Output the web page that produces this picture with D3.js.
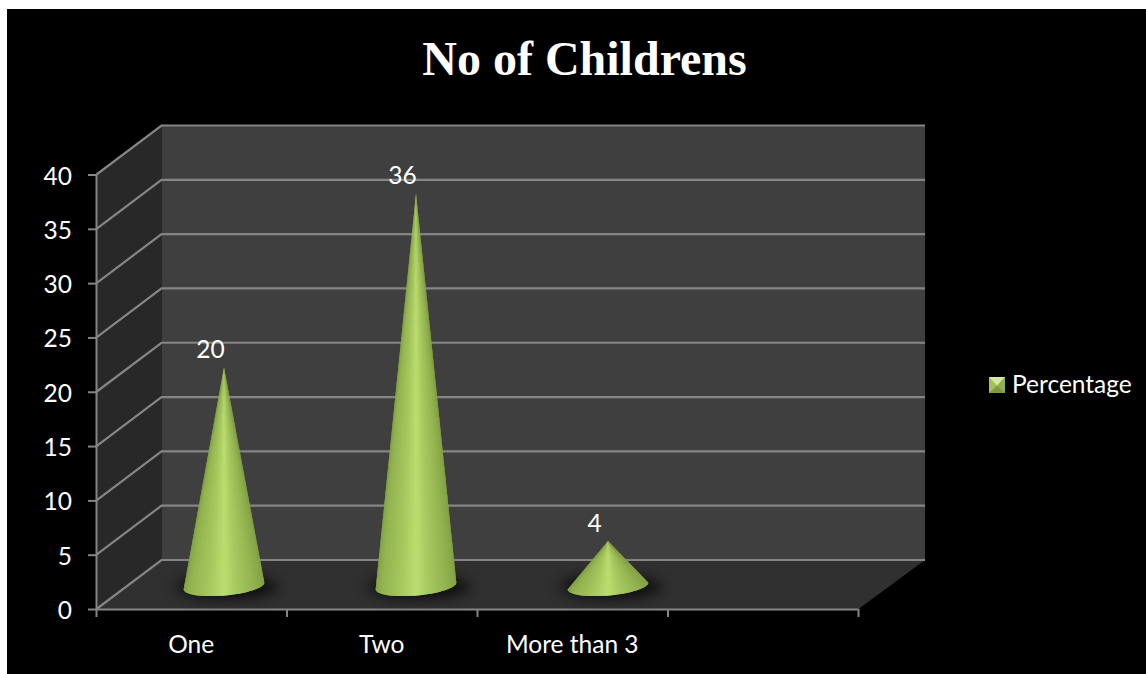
<!DOCTYPE html>
<html>
<head>
<meta charset="utf-8">
<script src="https://cdnjs.cloudflare.com/ajax/libs/d3/7.8.5/d3.min.js"></script>
<style>
html, body { margin: 0; padding: 0; background: #fff; }
svg { display: block; }
</style>
</head>
<body>
<svg id="chart" width="1146" height="674"></svg>
<script>
const categories = ["One", "Two", "More than 3", ""];
const seriesName = "Percentage";
const values = [20, 36, 4];
const yTicks = [0, 5, 10, 15, 20, 25, 30, 35, 40];
const chartTitle = "No of Childrens";

const svg = d3.select("#chart");
const defs = svg.append("defs");
const uiFont = "Lato, 'Open Sans', sans-serif";
const fontSize = 24.5;
const gridColor = "#858585";

// Oblique projection: front plane plus a fixed depth offset to the back wall.
const depth = { x: 65, y: -49 };
const x = d3.scaleBand().domain(d3.range(categories.length)).range([96, 858]);
const xMid = d3.scaleBand().domain(d3.range(categories.length)).range([128, 896]);
const y = d3.scaleLinear().domain([0, 40]).range([609, 174.5]);
const floorY = y(0), topY = y(40);
const left = x.range()[0] + 0.5, right = x.range()[1] + 0.5;
const backRight = right + 66.5;

defs.append("filter").attr("id", "soft").attr("x", "-40%").attr("y", "-100%")
  .attr("width", "180%").attr("height", "300%")
  .append("feGaussianBlur").attr("stdDeviation", 7);
defs.append("filter").attr("id", "smooth").attr("x", "-5%").attr("y", "-5%")
  .attr("width", "110%").attr("height", "110%")
  .append("feGaussianBlur").attr("stdDeviation", 0.45);

// Chart area background
svg.append("rect").attr("x", 7).attr("y", 9).attr("width", 1139).attr("height", 665).attr("fill", "#000");

const poly = pts => pts.map(p => p.join(",")).join(" ");

// Side wall, back wall and floor
svg.append("polygon").attr("fill", "#282828")
  .attr("points", poly([[left, topY], [left + depth.x, topY + depth.y], [left + depth.x, floorY + depth.y], [left, floorY]]));
svg.append("polygon").attr("fill", "#3f3f3f")
  .attr("points", poly([[left + depth.x, topY + depth.y], [backRight, topY + depth.y], [backRight, floorY + depth.y], [left + depth.x, floorY + depth.y]]));
svg.append("polygon").attr("fill", "#303030")
  .attr("points", poly([[left, floorY], [left + depth.x, floorY + depth.y], [backRight, floorY + depth.y], [right, floorY]]));

// Gridlines running along the side wall and back wall
const grid = svg.append("g").attr("filter", "url(#smooth)");
yTicks.forEach(t => {
  grid.append("polyline").attr("fill", "none").attr("stroke", gridColor).attr("stroke-width", 2.2)
    .attr("points", poly([[left, y(t)], [left + depth.x, y(t) + depth.y], [backRight, y(t) + depth.y]]));
});

// Value axis
const yAxis = d3.axisLeft(y).tickValues(yTicks).tickSize(8);
const yG = svg.append("g").attr("transform", `translate(${left - 0.5},0)`).call(yAxis);

// Category axis, ticks sit on the band edges
const xEdges = d3.scaleLinear().domain([0, categories.length]).range(x.range());
const xAxis = d3.axisBottom(xEdges).tickValues(d3.range(categories.length + 1)).tickSize(8).tickFormat("");
const xG = svg.append("g").attr("transform", `translate(0,${floorY})`).call(xAxis);

[yG, xG].forEach(g => {
  g.selectAll("path.domain").attr("stroke", gridColor).attr("stroke-width", 2);
  g.selectAll(".tick line").attr("stroke", gridColor).attr("stroke-width", 2);
});
yG.selectAll("path.domain").attr("d", `M0.5,${topY}V${floorY}`);
xG.selectAll("path.domain").attr("d", `M${left},0.5H${right}`);
yG.selectAll(".tick text")
  .attr("fill", "#fff").attr("font-family", uiFont).attr("font-size", fontSize)
  .attr("text-anchor", "end").attr("x", -24).attr("dy", "9.5px");

// Category labels
svg.append("g").selectAll("text").data(categories).join("text")
  .attr("x", (d, i) => x(i) + x.bandwidth() / 2)
  .attr("y", 652.5)
  .attr("text-anchor", "middle")
  .attr("fill", "#fff")
  .attr("font-family", uiFont)
  .attr("font-size", fontSize)
  .text(d => d);

// Cones stand midway across the floor's depth; the base ellipse is tilted slightly.
const coneBaseY = 586;
const coneRx = 40.5, coneRy = 9.5, tilt = -5 * Math.PI / 180;
const shade = d3.scaleLinear()
  .domain([-1, -0.8, -0.3, 0.08, 0.35, 0.8, 1])
  .range(["#83a446", "#93b450", "#a6c85e", "#bcdd70", "#a8ca60", "#92b24f", "#84a346"]);
const sliceCount = 48;

const cones = svg.append("g").selectAll("g").data(values).join("g");
cones.each(function (v, i) {
  const g = d3.select(this);
  const cx = xMid(i) + xMid.bandwidth() / 2;
  const apexY = y(v) + depth.y / 2;
  const rimPoint = a => {
    const ex = coneRx * Math.cos(a), ey = coneRy * Math.sin(a);
    return [cx + ex * Math.cos(tilt) - ey * Math.sin(tilt),
            coneBaseY + ex * Math.sin(tilt) + ey * Math.cos(tilt)];
  };
  // Contact shadow on the floor
  g.append("ellipse").attr("cx", cx + 3).attr("cy", coneBaseY + 1)
    .attr("rx", coneRx + 10).attr("ry", coneRy + 2)
    .attr("fill", "#000").attr("opacity", 0.75).attr("filter", "url(#soft)");
  // Cone body: overlapping fans painted left to right, so each covers the seam of the one before
  const body = g.append("g").attr("filter", "url(#smooth)");
  d3.range(sliceCount).forEach(k => {
    const a0 = Math.PI * (1 - k / sliceCount);
    const a1 = Math.PI * (1 - (k + 1) / sliceCount);
    const p0 = rimPoint(a0), p1 = rimPoint(a1);
    const col = shade(((p0[0] + p1[0]) / 2 - cx) / coneRx);
    // Each fan reaches back over its left neighbour's edge and ends on its own right edge
    const back = rimPoint(Math.min(Math.PI, a0 + Math.PI / sliceCount));
    body.append("polygon")
      .attr("points", poly([[cx, apexY], back, p0, p1]))
      .attr("fill", col);
  });
});

// Data labels
svg.append("g").selectAll("text").data(values).join("text")
  .attr("x", (v, i) => xMid(i) + xMid.bandwidth() / 2 - 13.5)
  .attr("y", v => y(v) + depth.y / 2 - 9.5)
  .attr("text-anchor", "middle")
  .attr("fill", "#fff")
  .attr("font-family", uiFont)
  .attr("font-size", fontSize)
  .text(v => v);

// Title
svg.append("text").attr("x", 584.5).attr("y", 75).attr("text-anchor", "middle")
  .attr("fill", "#fff").attr("font-family", "'Liberation Serif', serif")
  .attr("font-weight", "bold").attr("font-size", 48).text(chartTitle);

// Legend key with bevelled faces, then its label
const legend = svg.append("g");
const kx = 989, ky = 377, ks = 16;
const faces = [
  { fill: "#d4e8a4", pts: [[kx, ky], [kx + ks, ky], [kx + ks / 2, ky + ks / 2 + 1]] },
  { fill: "#a3c05f", pts: [[kx, ky], [kx + ks / 2, ky + ks / 2 + 1], [kx, ky + ks]] },
  { fill: "#94b052", pts: [[kx + ks, ky], [kx + ks / 2, ky + ks / 2 + 1], [kx + ks, ky + ks]] },
  { fill: "#7d9a42", pts: [[kx, ky + ks], [kx + ks / 2, ky + ks / 2 + 1], [kx + ks, ky + ks]] }
];
const keyG = legend.append("g").attr("filter", "url(#smooth)");
keyG.append("rect").attr("x", kx).attr("y", ky).attr("width", ks).attr("height", ks).attr("fill", "#94b052");
keyG.selectAll("polygon").data(faces).join("polygon")
  .attr("points", d => poly(d.pts)).attr("fill", d => d.fill);
legend.append("text").attr("x", 1012).attr("y", 392.5)
  .attr("fill", "#fff").attr("font-family", uiFont)
  .attr("font-size", fontSize).text(seriesName);
</script>
</body>
</html>
